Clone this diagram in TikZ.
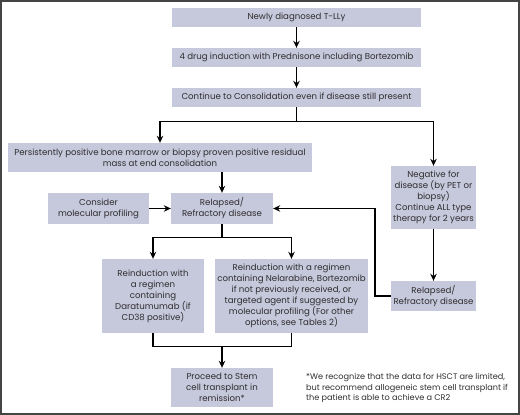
\documentclass[tikz,border=0pt]{standalone}
\usepackage{fontspec}
\setmainfont{Poppins}
\usetikzlibrary{arrows.meta,calc}
\definecolor{boxfill}{HTML}{C6C8DC}
\definecolor{txt}{HTML}{2E2E2E}
\definecolor{frame}{HTML}{444444}
\tikzset{
  box/.style={draw=none,fill=boxfill,text=txt,align=center,inner sep=0pt,font=\fontsize{8.6}{11}\selectfont},
  conn/.style={line width=1.1pt,draw=black},
  arr/.style={conn,-{Stealth[length=7pt,width=6.5pt]}},
}
\begin{document}
\begin{tikzpicture}[x=1pt,y=-1pt]
\useasboundingbox (0,0) rectangle (520,415);
\draw[frame,line width=2pt] (1,1) rectangle (519,414);
\node[box,minimum width=249pt,minimum height=19pt] (b1) at (296.5,17.5) {Newly diagnosed T-LLy};
\node[box,minimum width=249pt,minimum height=19pt] (b2) at (296.5,57.5) {4 drug induction with Prednisone including Bortezomib};
\node[box,minimum width=249pt,minimum height=19pt] (b3) at (296.5,97.5) {Continue to Consolidation even if disease still present};
\node[box,minimum width=304pt,minimum height=29pt] (b4) at (160,157.5) {Persistently positive bone marrow or biopsy proven positive residual\\mass at end consolidation};
\node[box,minimum width=85pt,minimum height=63pt] (neg) at (433.5,197.5) {Negative for\\disease (by PET or\\biopsy)\\Continue ALL type\\therapy for 2 years};
\node[box,minimum width=102pt,minimum height=31pt] (rel) at (222,208.5) {Relapsed/\\Refractory disease};
\node[box,minimum width=101pt,minimum height=31pt] (cons) at (98.5,208.5) {Consider\\molecular profiling};
\node[box,minimum width=102pt,minimum height=74pt] (rl) at (153,296) {Reinduction with\\a regimen\\containing\\Daratumumab (if\\CD38 positive)};
\node[box,minimum width=153pt,minimum height=74pt] (rr) at (291.5,296) {Reinduction with a regimen\\containing Nelarabine, Bortezomib\\if not previously received, or\\targeted agent if suggested by\\molecular profiling (For other\\options, see Tables 2)};
\node[box,minimum width=102pt,minimum height=39pt] (proc) at (222,387.5) {Proceed to Stem\\cell transplant in\\remission*};
\node[box,minimum width=85pt,minimum height=30pt] (rel2) at (433.5,296) {Relapsed/\\Refractory disease};
\node[text=txt,align=left,anchor=west,inner sep=0pt,font=\fontsize{8.15}{10.6}\selectfont] (note) at (306,388) {*We recognize that the data for HSCT are limited,\\but recommend allogeneic stem cell transplant if\\the patient is able to achieve a CR2};
% connectors
\draw[arr] (b1) -- (b2);
\draw[arr] (b2) -- (b3);
\coordinate (s1) at ($(b3.south)+(0,14)$);
\draw[conn] (b3.south) -- (s1);
\draw[arr] (s1) -| (b4.north);
\draw[arr] (s1) -| (neg.north);
\draw[arr] (rel.north |- b4.south) -- (rel.north);
\draw[arr] (cons) -- (rel);
\coordinate (s2) at ($(rel.south)+(0,13)$);
\draw[conn] (rel.south) -- (s2);
\draw[arr] (s2) -| (rl.north);
\draw[arr] (s2) -| (rr.north);
\coordinate (m1) at ($(proc.north)+(0,-21)$);
\draw[conn] (rl.south) |- (m1) -| (rr.south);
\draw[arr] (m1) -- (proc.north);
\draw[arr] (neg) -- (rel2);
\coordinate (fb) at (375,296);
\draw[arr] (rel2.west) -- (fb) |- (rel.east);
\end{tikzpicture}
\end{document}
